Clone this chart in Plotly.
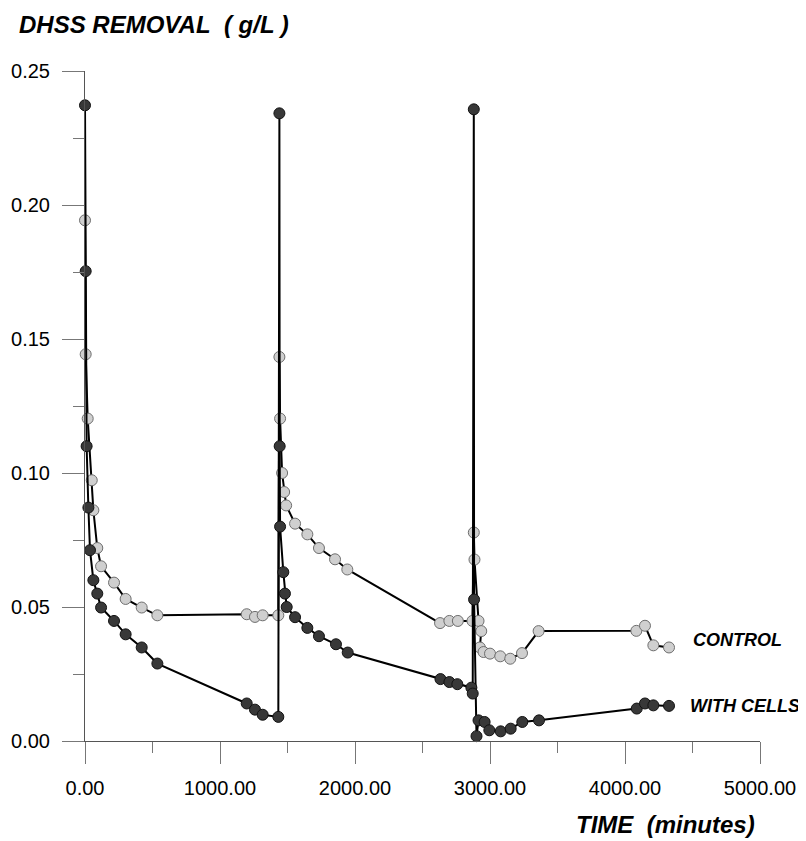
import plotly.graph_objects as go

# CONTROL series (light markers)
control_t = [0, 5, 20, 50, 62, 91, 119, 215, 301, 420, 536, 1198, 1259, 1316, 1432,
             1440, 1445, 1460, 1475, 1490, 1556, 1647, 1733, 1852, 1943,
             2630, 2699, 2762, 2870, 2880, 2885, 2915, 2935, 2925, 2952, 3000, 3076, 3150, 3237, 3360,
             4084, 4148, 4210, 4326]
control_v = [0.1943, 0.1443, 0.1203, 0.0973, 0.0861, 0.0720, 0.0652, 0.0591, 0.0530, 0.0498, 0.0469,
             0.0473, 0.0463, 0.0469, 0.0469,
             0.1433, 0.1203, 0.1000, 0.0929, 0.0879, 0.0811, 0.0771, 0.0720, 0.0678, 0.0640,
             0.0440, 0.0448, 0.0448, 0.0448, 0.0778, 0.0677, 0.0448, 0.0410, 0.0349, 0.0332, 0.0326,
             0.0316, 0.0307, 0.0328, 0.0410,
             0.0411, 0.0430, 0.0357, 0.0349]

# WITH CELLS series (dark markers)
cells_t = [0, 5, 12, 25, 37, 62, 91, 119, 215, 301, 420, 536, 1198, 1259, 1316, 1432,
           1440, 1442, 1445, 1469, 1481, 1494, 1556, 1647, 1733, 1859, 1946,
           2633, 2699, 2758, 2862, 2872, 2880, 2882, 2900, 2915, 2960, 2995, 3079, 3153, 3239, 3363,
           4087, 4148, 4210, 4326]
cells_v = [0.2372, 0.1753, 0.1100, 0.0871, 0.0712, 0.0600, 0.0550, 0.0498, 0.0448, 0.0398, 0.0349, 0.0289,
           0.0140, 0.0117, 0.0098, 0.0090,
           0.2342, 0.1100, 0.0800, 0.0630, 0.0550, 0.0500, 0.0462, 0.0422, 0.0391, 0.0361, 0.0330,
           0.0231, 0.0220, 0.0212, 0.0199, 0.0177, 0.2357, 0.0528, 0.0018, 0.0077, 0.0071, 0.0040,
           0.0036, 0.0046, 0.0071, 0.0077,
           0.0121, 0.0140, 0.0133, 0.0131]

x_ticks = [0, 1000, 2000, 3000, 4000, 5000]
y_ticks = [0.00, 0.05, 0.10, 0.15, 0.20, 0.25]

FONT = "Liberation Sans, Arial, sans-serif"

fig = go.Figure()
fig.add_trace(go.Scatter(
    x=control_t, y=control_v, mode="lines+markers", name="CONTROL",
    line=dict(color="black", width=2),
    marker=dict(size=11, color="#cfcfcf", line=dict(color="#6e6e6e", width=1)),
    cliponaxis=False))
fig.add_trace(go.Scatter(
    x=cells_t, y=cells_v, mode="lines+markers", name="WITH CELLS",
    line=dict(color="black", width=2),
    marker=dict(size=11, color="#383838", line=dict(color="#111111", width=1)),
    cliponaxis=False))

axis_common = dict(showgrid=False, zeroline=False, showline=True, linecolor="#555555", linewidth=1,
                   ticks="outside", tickcolor="#777777", tickwidth=1, ticklen=22,
                   tickfont=dict(family=FONT, size=20, color="black"), tickformat=".2f")

fig.update_xaxes(range=[0, 5000], tickvals=x_ticks, ticklabelstandoff=7,
                 minor=dict(ticks="outside", ticklen=11, tickcolor="#777777", dtick=500, tick0=0, showgrid=False),
                 **axis_common)
fig.update_yaxes(range=[0, 0.25], tickvals=y_ticks, ticklabelstandoff=8,
                 minor=dict(ticks="outside", ticklen=11, tickcolor="#777777", dtick=0.025, tick0=0, showgrid=False),
                 **axis_common)

fig.add_annotation(text="<b><i>DHSS REMOVAL\u00a0\u00a0( g/L )</i></b>", xref="paper", yref="paper",
                   x=-0.1007, y=1.0697, xanchor="left", yanchor="middle", showarrow=False,
                   font=dict(family=FONT, size=24, color="black"))
fig.add_annotation(text="<b><i>TIME\u00a0\u00a0(minutes)</i></b>", xref="paper", yref="paper",
                   x=0.9956, y=-0.125, xanchor="right", yanchor="middle", showarrow=False,
                   font=dict(family=FONT, size=24, color="black"))
fig.add_annotation(text="<b><i>CONTROL</i></b>", x=4489, y=0.0376, xanchor="left", yanchor="middle",
                   showarrow=False, font=dict(family=FONT, size=18, color="black"))
fig.add_annotation(text="<b><i>WITH CELLS</i></b>", x=4466, y=0.0130, xanchor="left", yanchor="middle",
                   showarrow=False, font=dict(family=FONT, size=18, color="black"))

# page body has an 8px margin, so the figure is offset by 8px
fig.update_layout(width=798, height=833, showlegend=False,
                  margin=dict(l=77, r=46, t=63, b=100, autoexpand=False),
                  plot_bgcolor="white", paper_bgcolor="white")

fig.write_html("out.html")
